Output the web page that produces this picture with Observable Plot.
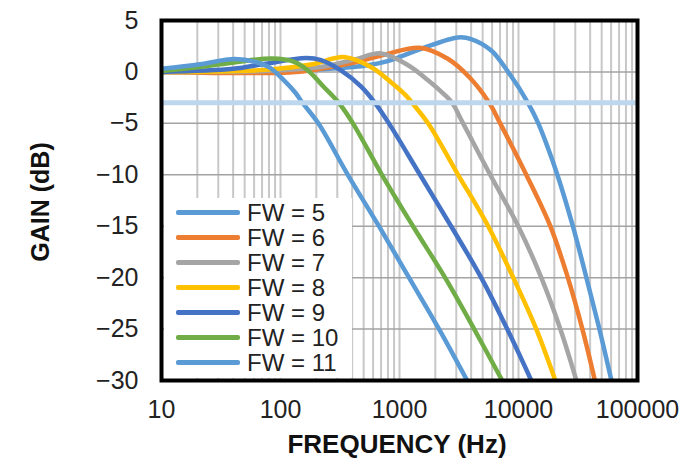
<!DOCTYPE html>
<html>
<head>
<meta charset="utf-8">
<script src="https://cdn.jsdelivr.net/npm/d3@7"></script>
<script src="https://cdn.jsdelivr.net/npm/@observablehq/plot@0.6"></script>
<style>
  html, body { margin: 0; padding: 0; background: #fff; }
  #wrap { position: relative; width: 687px; height: 463px; font-family: "Liberation Sans", Arial, sans-serif; color: #222; }
  #chart svg { display: block; }
  .ytitle { position: absolute; left: 40px; top: 202px; transform: translate(-50%, -50%) rotate(-90deg);
            font-weight: bold; font-size: 25px; white-space: nowrap; color: #111; }
  .xtitle { position: absolute; left: 397px; top: 444px; transform: translate(-50%, -50%);
            font-weight: bold; font-size: 26px; white-space: nowrap; color: #111; }
  #legend { position: absolute; left: 164px; top: 198px; width: 188px; height: 180px; background: #fff; }
  .row { position: absolute; left: 12px; height: 25px; display: flex; align-items: center; }
  .swatch { width: 64px; height: 5px; border-radius: 2px; margin-right: 7px; }
  .lbl { font-size: 24px; line-height: 25px; color: #222; }
</style>
</head>
<body>
<div id="wrap">
  <div id="chart"></div>
  <div class="ytitle">GAIN (dB)</div>
  <div class="xtitle">FREQUENCY (Hz)</div>
  <div id="legend"></div>
</div>
<script>
// Series names and colours
const fwLabels = ["FW = 5", "FW = 6", "FW = 7", "FW = 8", "FW = 9", "FW = 10", "FW = 11"];
const fwColors = ["#5B9BD5", "#ED7D31", "#A5A5A5", "#FFC000", "#4472C4", "#70AD47", "#5B9BD5"];

// Gain response per setting: [frequency (Hz), gain (dB)]
const fw5 = [[10,0.0],[118,0.1],[218,0.25],[505,0.6],[796,1.05],[1517,2.24],[3093,3.35],[4000,3.2],[5900,2.08],[8150,0.03],[12013,-3],[14670,-5],[17810,-7.5],[21200,-10],[28630,-15],[37200,-20],[47860,-25],[60400,-30]];
const fw6 = [[10,0.0],[118,-0.05],[218,0.3],[416,0.9],[796,1.76],[1469,2.35],[2546,1.28],[3850,-0.5],[5672,-3],[7020,-5],[11623,-10],[18513,-15],[25980,-20],[34430,-25],[43860,-30]];
const fw7 = [[10,0.0],[75,0.1],[218,0.47],[416,1.2],[698,1.8],[1172,0.68],[1727,-0.78],[2384,-2.2],[2768,-3],[3424,-5],[5783,-10],[9952,-15],[15543,-20],[22462,-25],[30643,-30]];
const fw8 = [[10,0.0],[75,0.2],[186,0.75],[341,1.45],[575,0.47],[848,-1.0],[1135,-2.3],[1274,-3],[1738,-5],[3109,-10],[5564,-15],[9034,-20],[14107,-25],[20390,-30]];
const fw9 = [[10,0.0],[40,0.3],[75,0.8],[165,1.35],[219,1.15],[322,0.15],[474,-1.4],[622,-3],[815,-5],[1488,-10],[2715,-15],[4857,-20],[8040,-25],[12805,-30]];
const fw10 = [[10,0.1],[21,0.47],[42,0.95],[85,1.3],[129,1.0],[174,0.05],[226,-1.35],[309,-3],[406,-5],[712,-10],[1299,-15],[2416,-20],[4241,-25],[7299,-30]];
const fw11 = [[10,0.3],[21,0.75],[41,1.25],[62,0.97],[80,0.47],[104,-0.67],[134,-2.05],[153,-3],[208,-5],[368,-10],[672,-15],[1202,-20],[2150,-25],[3702,-30]];

// -3 dB reference level
const cutoffDb = [-3];

// Axis ticks
const xTicks = [10, 100, 1000, 10000, 100000];
const yTicks = [5, 0, -5, -10, -15, -20, -25, -30];
const yGrid = [0, -5, -10, -15, -20, -25];
// Log grid: every 1..9 step within each decade
const xGrid = [10, 100, 1000, 10000].flatMap(d => d3.range(1, 10).map(k => k * d)).concat([100000]);

const seriesData = [fw5, fw6, fw7, fw8, fw9, fw10, fw11];
const table = seriesData.flatMap((pts, i) => pts.map(([f, g]) => ({series: fwLabels[i], f, g})));

const chart = Plot.plot({
  width: 687,
  height: 463,
  marginLeft: 161,
  marginRight: 50,
  marginTop: 20,
  marginBottom: 83,
  style: {fontFamily: "'Liberation Sans', Arial, sans-serif", color: "#222", background: "#fff"},
  x: {type: "log", domain: [10, 100000]},
  y: {domain: [-30, 5]},
  color: {domain: fwLabels, range: fwColors},
  marks: [
    Plot.gridX(xGrid, {stroke: "#c8c8c8", strokeOpacity: 1, strokeWidth: 2}),
    Plot.gridY(yGrid, {stroke: "#a3a3a3", strokeOpacity: 1, strokeWidth: 1.5}),
    Plot.line(table, {x: "f", y: "g", z: "series", stroke: "series", curve: "catmull-rom",
                      strokeWidth: 4.5, clip: true}),
    Plot.ruleY(cutoffDb, {stroke: "#BDD7EE", strokeWidth: 5}),
    Plot.frame({stroke: "#000", strokeWidth: 4}),
    Plot.axisX({ticks: xTicks, tickFormat: d => String(d), tickSize: 0, tickPadding: 20,
                fontSize: 25, label: null}),
    Plot.axisY({ticks: yTicks, tickSize: 0, tickPadding: 23, fontSize: 25, label: null})
  ]
});
document.getElementById("chart").appendChild(chart);

// Legend rows
const legend = document.getElementById("legend");
fwLabels.forEach((name, i) => {
  const row = document.createElement("div");
  row.className = "row";
  row.style.top = (2 + 25 * i) + "px";
  const sw = document.createElement("div");
  sw.className = "swatch";
  sw.style.background = fwColors[i];
  const t = document.createElement("span");
  t.className = "lbl";
  t.textContent = name;
  row.appendChild(sw);
  row.appendChild(t);
  legend.appendChild(row);
});
</script>
</body>
</html>
